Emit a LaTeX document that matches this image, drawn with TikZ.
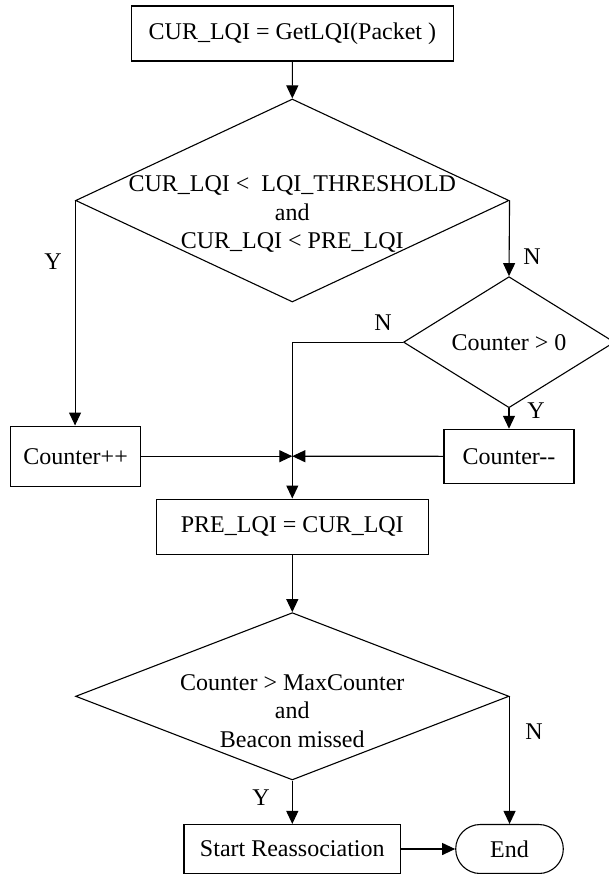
\documentclass[tikz,border=0pt]{standalone}
\usepackage{fontspec}
\setmainfont{Liberation Serif}
\usetikzlibrary{shapes.geometric,shapes.misc,arrows.meta}

\tikzset{
  proc/.style={draw, rectangle, inner sep=0pt},
  decide/.style={draw, diamond, inner sep=0pt},
  term/.style={draw, rounded rectangle, inner sep=0pt},
  flow/.style={-{Triangle[length=13pt,width=12pt]}},
}

\begin{document}
\begin{tikzpicture}[x=1pt, y=-1pt, line width=1.1pt,
    font=\fontsize{24}{28.5}\selectfont]
  \useasboundingbox (0,0) rectangle (608,874);
  % boxes and decisions
  \node[proc, minimum width=322pt, minimum height=55pt] (getlqi) at (292.4,33.5)
    {CUR\_LQI = GetLQI(Packet )};
  \node[decide, minimum width=433.4pt, minimum height=203pt] (chk1) at (292.3,200.5) {};
  \node[align=center] (chk1txt) at (292.3,214.5)
    {CUR\_LQI <\ \ LQI\_THRESHOLD\\and\\CUR\_LQI < PRE\_LQI};
  \node[decide, minimum width=211pt, minimum height=114.3pt] (cntpos) at (509,342.2)
    {Counter > 0};
  \node[proc, minimum width=130.2pt, minimum height=60.3pt] (inc) at (75.6,456.2) {Counter++};
  \node[proc, minimum width=130pt, minimum height=54pt] (dec) at (509,456.3) {Counter-{}-};
  \coordinate (merge) at (292.3,456.2);
  \node[proc, minimum width=272pt, minimum height=55.3pt] (prelqi) at (292.3,526.7)
    {PRE\_LQI = CUR\_LQI};
  \node[decide, minimum width=433.4pt, minimum height=167.3pt] (chk2) at (292.3,696.3) {};
  \node[align=center] (chk2txt) at (292.3,711)
    {Counter > MaxCounter\\and\\Beacon missed};
  \node[proc, minimum width=216.7pt, minimum height=49pt] (reassoc) at (292.3,849)
    {Start Reassociation};
  \node[term, minimum width=107.6pt, minimum height=49pt] (finish) at (509.5,849) {End};
  % connectors
  \draw[flow] (getlqi) -- (chk1.north);
  \draw[flow] (chk1.west) -- (chk1.west |- inc.north);
  \draw[flow] (chk1.east) -- (cntpos.north);
  \draw[flow] (cntpos.west) -| (prelqi.north);
  \draw[flow] (cntpos.south) -- (dec.north);
  \draw[flow] (inc.east) -- (merge);
  \draw[flow] (dec.west) -- (merge);
  \draw[flow] (prelqi.south) -- (chk2.north);
  \draw[flow] (chk2.south) -- (reassoc.north);
  \draw[flow] (chk2.east) -- (chk2.east |- finish.north);
  \draw[flow] (reassoc.east) -- (finish.west);
  % branch labels
  \node (y1) at (53,262) {Y};
  \node (n1) at (532,257) {N};
  \node (n2) at (383,323) {N};
  \node (y2) at (536,411) {Y};
  \node (n3) at (534,732) {N};
  \node (y3) at (261,798) {Y};
\end{tikzpicture}
\end{document}
